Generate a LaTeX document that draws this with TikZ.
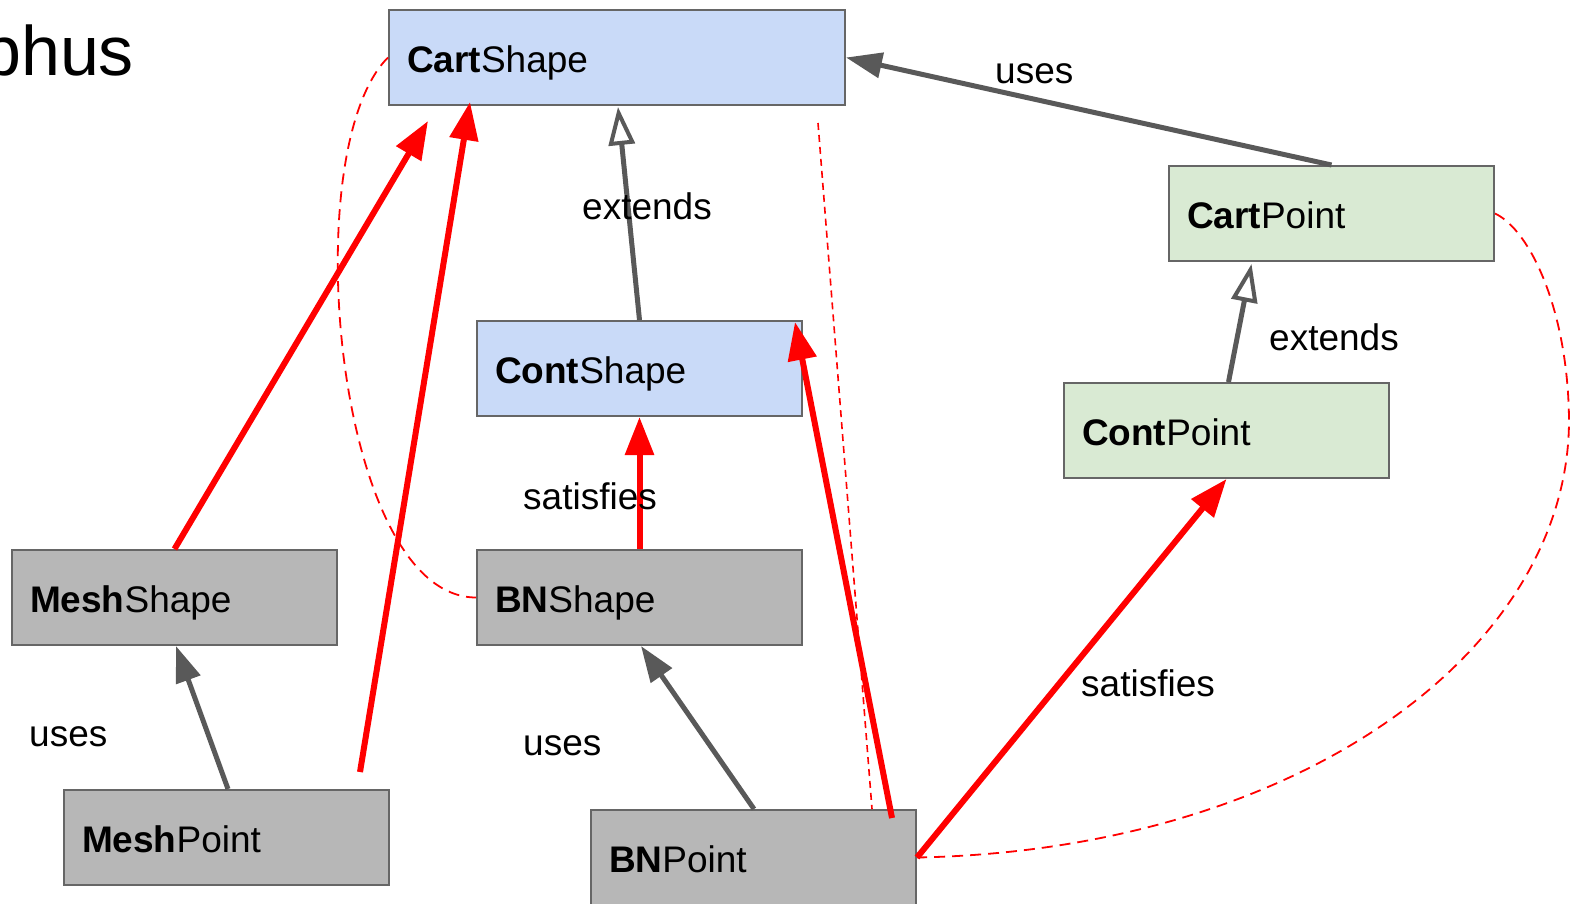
\documentclass[tikz,border=0pt]{standalone}
\usepackage{fontspec}
\setmainfont{Liberation Sans}
\usetikzlibrary{arrows.meta}

\definecolor{shapeblue}{HTML}{C9DAF8}
\definecolor{pointgreen}{HTML}{D9EAD3}
\definecolor{implgray}{HTML}{B7B7B7}
\definecolor{boxline}{HTML}{666666}
\definecolor{relgray}{HTML}{595959}
\definecolor{relred}{HTML}{FF0000}

\begin{document}
\begin{tikzpicture}[x=1pt,y=-1pt,
  font=\fontsize{37}{44}\selectfont,
  cls/.style={draw=boxline, line width=2pt, anchor=north west,
    minimum height=95pt, inner xsep=18pt, inner ysep=0pt,
    text width=289pt, align=left, text height=30pt, text depth=0pt},
  widecls/.style={text width=420pt},
  usesrel/.style={draw=relgray, line width=5pt,
    -{Triangle[length=36pt,width=25pt]}},
  extrel/.style={draw=relgray, line width=5pt,
    -{Triangle[open,length=38pt,width=26pt,line width=4pt]}},
  satrel/.style={draw=relred, line width=6pt,
    -{Triangle[length=38pt,width=28pt]}},
  deprel/.style={draw=relred, line width=1.8pt, dash pattern=on 11pt off 7pt},
  depthin/.style={draw=relred, line width=1.6pt, dash pattern=on 7pt off 5pt},
  lbl/.style={anchor=base west, inner sep=0pt}
]
\useasboundingbox (0,0) rectangle (1570,903);

% page title (cut at the left edge)
\node[anchor=base west, inner sep=0pt, font=\fontsize{70}{76}\selectfont]
  (title) at (-18,75) {phus};

% classes
\node[cls, widecls, fill=shapeblue] (cartshape) at (388,9)   {\textbf{Cart}Shape};
\node[cls, fill=pointgreen]         (cartpoint) at (1168,165) {\textbf{Cart}Point};
\node[cls, fill=shapeblue]          (contshape) at (476,320)  {\textbf{Cont}Shape};
\node[cls, fill=pointgreen]         (contpoint) at (1063,382) {\textbf{Cont}Point};
\node[cls, fill=implgray]           (meshshape) at (11,549)   {\textbf{Mesh}Shape};
\node[cls, fill=implgray]           (bnshape)   at (476,549)  {\textbf{BN}Shape};
\node[cls, fill=implgray]           (meshpoint) at (63,789)   {\textbf{Mesh}Point};
\node[cls, fill=implgray]           (bnpoint)   at (590,809)  {\textbf{BN}Point};

% free connector ends
\coordinate (meshsatTip)  at (428,121);
\coordinate (meshptStart) at (360,772);
\coordinate (meshptTip)   at (470,102);
\coordinate (bnptStart)   at (892,818);
\coordinate (bnptTip)     at (795,322);
\coordinate (thinTop)     at (818,123);
\coordinate (rightBend)   at (1569,420);

% dashed correspondences
\draw[deprel] (cartshape.west) .. controls (295,150) and (335,597) .. (bnshape.west);
\draw[deprel] (cartpoint.east) .. controls (1530,230) and (1568,310) .. (rightBend)
  .. controls (1569,650) and (1300,850) .. (bnpoint.east);
\draw[depthin] (thinTop) -- ([xshift=118.5pt]bnpoint.north);

% uses
\draw[usesrel] (cartpoint.north) -- (cartshape.east);
\draw[usesrel] ([xshift=1.5pt]meshpoint.north) -- ([xshift=1.5pt]meshshape.south);
\draw[usesrel] ([xshift=0.5pt]bnpoint.north) -- ([xshift=1.5pt]bnshape.south);

% extends
\draw[extrel] (contshape.north) -- ([xshift=1pt,yshift=-1pt]cartshape.south);
\draw[extrel] ([xshift=2pt]contpoint.north) -- ([xshift=-80pt,yshift=-2pt]cartpoint.south);

% satisfies
\draw[satrel] (bnshape.north) -- (contshape.south);
\draw[satrel] (meshshape.north) -- (meshsatTip);
\draw[satrel] (meshptStart) -- (meshptTip);
\draw[satrel] (bnptStart) -- (bnptTip);
\draw[satrel] (bnpoint.east) -- (contpoint.south);

% relation labels
\node[lbl] (usesTop)  at (995,83)   {uses};
\node[lbl] (extTop)   at (582,219)  {extends};
\node[lbl] (extRight) at (1269,350) {extends};
\node[lbl] (satMid)   at (523,509)  {satisfies};
\node[lbl] (satRight) at (1081,696) {satisfies};
\node[lbl] (usesMesh) at (29,746)   {uses};
\node[lbl] (usesBN)   at (523,755)  {uses};
\end{tikzpicture}
\end{document}
